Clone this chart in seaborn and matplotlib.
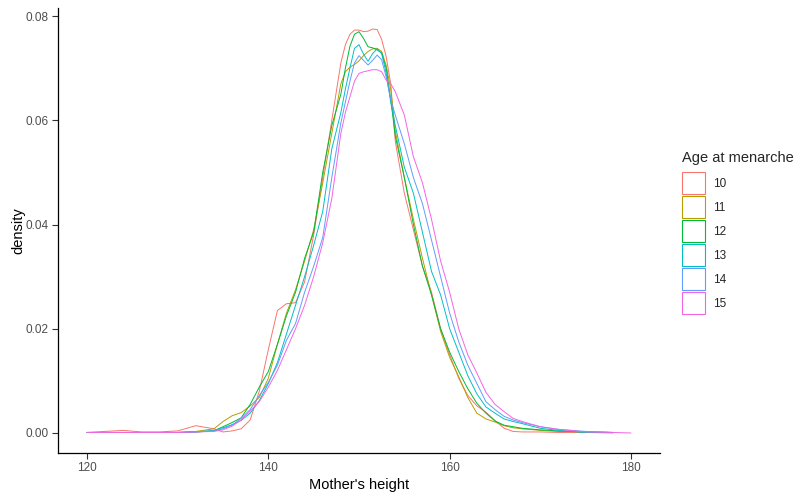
import numpy as np
import pandas as pd
import matplotlib
matplotlib.use("Agg")
import matplotlib.pyplot as plt
from matplotlib.patches import Patch
import seaborn as sns

nan = np.nan

heights = [120, 122, 124, 126, 128, 130, 132, 134, 135, 136, 137, 138, 139, 140,
           141, 142, 143, 144, 145, 146, 147, 148, 148.5, 149, 149.5, 150, 150.5,
           151, 151.5, 152, 152.5, 153, 153.5, 154, 155, 156, 157, 158, 159, 160,
           161, 162, 163, 164, 165, 166, 167, 168, 170, 172, 175, 178, 180]

age_groups = ["10", "11", "12", "13", "14", "15"]

dens_10 = [0.0001, 0.0003, 0.0005, 0.0002, 0.0002, 0.0004, 0.0014, 0.0008, 0.0002, 0.0004,
           0.0008, 0.0025, 0.008, 0.016, 0.0235, 0.0248, 0.025, 0.029, 0.038, 0.049,
           0.060, 0.071, 0.0745, 0.0765, 0.0773, 0.0773, 0.0770, 0.0771, 0.0775, 0.0774,
           0.0755, 0.0722, 0.067, 0.056, 0.046, 0.039, 0.032, 0.027, 0.020, 0.015,
           0.0105, 0.0072, 0.0052, 0.004, 0.0024, 0.0009, 0.0003, 0.0002, 0.0002, 0.0001,
           0.0001, 0.0, nan]

dens_11 = [0.0001, 0.0001, 0.0001, 0.0001, 0.0001, 0.0001, 0.0003, 0.0008, 0.0022, 0.0033,
           0.0039, 0.0052, 0.0068, 0.0105, 0.017, 0.023, 0.0275, 0.033, 0.039, 0.048,
           0.0575, 0.067, 0.0693, 0.0702, 0.0707, 0.0714, 0.0724, 0.0732, 0.0737, 0.0738,
           0.0732, 0.0705, 0.066, 0.058, 0.049, 0.041, 0.0335, 0.0265, 0.0195, 0.0145,
           0.0108, 0.0068, 0.0038, 0.0027, 0.0021, 0.0014, 0.001, 0.0008, 0.0005, 0.0003,
           0.0002, 0.0001, nan]

dens_12 = [0.0001, 0.0001, 0.0001, 0.0001, 0.0001, 0.0001, 0.0002, 0.0004, 0.0012, 0.002,
           0.0029, 0.0055, 0.0088, 0.0118, 0.017, 0.0225, 0.027, 0.0335, 0.0385, 0.050,
           0.059, 0.065, 0.070, 0.0742, 0.0765, 0.0770, 0.0757, 0.0741, 0.0739, 0.0735,
           0.0729, 0.0700, 0.064, 0.057, 0.049, 0.040, 0.032, 0.0265, 0.020, 0.0155,
           0.0118, 0.0085, 0.0057, 0.0038, 0.0023, 0.0015, 0.0012, 0.0009, 0.0006, 0.0004,
           0.0002, 0.0001, nan]

dens_13 = [0.0001, 0.0001, 0.0001, 0.0001, 0.0001, 0.0001, 0.0002, 0.0005, 0.001, 0.0016,
           0.0024, 0.0038, 0.0062, 0.0095, 0.0135, 0.019, 0.0245, 0.030, 0.036, 0.0425,
           0.0545, 0.0615, 0.066, 0.070, 0.0738, 0.0745, 0.0727, 0.0713, 0.0728, 0.0737,
           0.0728, 0.0690, 0.0635, 0.059, 0.051, 0.046, 0.0385, 0.031, 0.0265, 0.020,
           0.0155, 0.011, 0.0075, 0.005, 0.0038, 0.0027, 0.0022, 0.0018, 0.0009, 0.0005,
           0.0001, 0.0001, nan]

dens_14 = [0.0001, 0.0001, 0.0001, 0.0001, 0.0001, 0.0001, 0.0002, 0.0004, 0.0008, 0.0015,
           0.0028, 0.0045, 0.0072, 0.0097, 0.013, 0.0178, 0.021, 0.027, 0.032, 0.0375,
           0.049, 0.0595, 0.0635, 0.0675, 0.071, 0.0724, 0.0715, 0.0706, 0.0715, 0.0725,
           0.0716, 0.0683, 0.064, 0.061, 0.0555, 0.049, 0.044, 0.037, 0.030, 0.023,
           0.0175, 0.013, 0.0095, 0.006, 0.0045, 0.0032, 0.0025, 0.002, 0.0012, 0.0007,
           0.0003, 0.0001, nan]

dens_15 = [0.0001, 0.0001, 0.0001, 0.0001, 0.0001, 0.0001, 0.0002, 0.0003, 0.0006, 0.0013,
           0.0025, 0.0042, 0.006, 0.0088, 0.012, 0.016, 0.020, 0.0245, 0.030, 0.0365,
           0.045, 0.0575, 0.0615, 0.0645, 0.0675, 0.069, 0.0693, 0.0695, 0.0697, 0.0697,
           0.0693, 0.0677, 0.067, 0.0655, 0.061, 0.053, 0.048, 0.041, 0.033, 0.027,
           0.020, 0.015, 0.0115, 0.0078, 0.0055, 0.0041, 0.0028, 0.0022, 0.0012, 0.0007,
           0.0002, 0.0001, 0.0]

series = [dens_10, dens_11, dens_12, dens_13, dens_14, dens_15]
palette = ["#F8766D", "#B79F00", "#00BA38", "#00BFC4", "#619CFF", "#F564E3"]

frames = []
for g, vals in zip(age_groups, series):
    frames.append(pd.DataFrame({"height": heights, "density": vals, "age": g}))
df = pd.concat(frames, ignore_index=True).dropna()

sns.set_theme(style="white")
plt.rcParams["font.family"] = ["Liberation Sans", "DejaVu Sans"]

fig = plt.figure(figsize=(7.94, 4.92), dpi=100)
ax = fig.add_axes([58 / 794, 39 / 492, (660 - 58) / 794, (453 - 8) / 492])

sns.lineplot(data=df, x="height", y="density", hue="age", hue_order=age_groups,
             palette=palette, linewidth=0.7, legend=False, ax=ax, sort=True,
             estimator=None)

ax.set_xlim(116.8, 183.2)
ax.set_ylim(-0.00384, 0.08154)
ax.set_xticks([120, 140, 160, 180])
ax.set_yticks([0.0, 0.02, 0.04, 0.06, 0.08])
ax.set_yticklabels(["0.00", "0.02", "0.04", "0.06", "0.08"])
ax.tick_params(axis="both", which="both", length=4, width=0.8, color="#333333",
               labelsize=8.5, labelcolor="#4D4D4D", pad=2.5, left=True, bottom=True)
for side in ["top", "right"]:
    ax.spines[side].set_visible(False)
for side in ["left", "bottom"]:
    ax.spines[side].set_color("black")
    ax.spines[side].set_linewidth(0.9)
ax.set_xlabel("Mother's height", fontsize=10.5, color="black", labelpad=3)
ax.set_ylabel("density", fontsize=10.5, color="black", labelpad=0.5)
ax.grid(False)

handles = [Patch(facecolor="none", edgecolor=c, linewidth=0.8) for c in palette]
leg = fig.legend(handles, age_groups, title="Age at menarche",
                 loc="upper left", bbox_to_anchor=(682 / 794, 1 - 151 / 492),
                 frameon=False, fontsize=8.5, title_fontsize=10.5,
                 handlelength=1.95, handleheight=2.49, labelspacing=0.17,
                 handletextpad=0.7, borderpad=0.0, borderaxespad=0.0)
leg._legend_box.align = "left"
leg._legend_box.sep = 5.0

fig.savefig("out.png", dpi=100)
